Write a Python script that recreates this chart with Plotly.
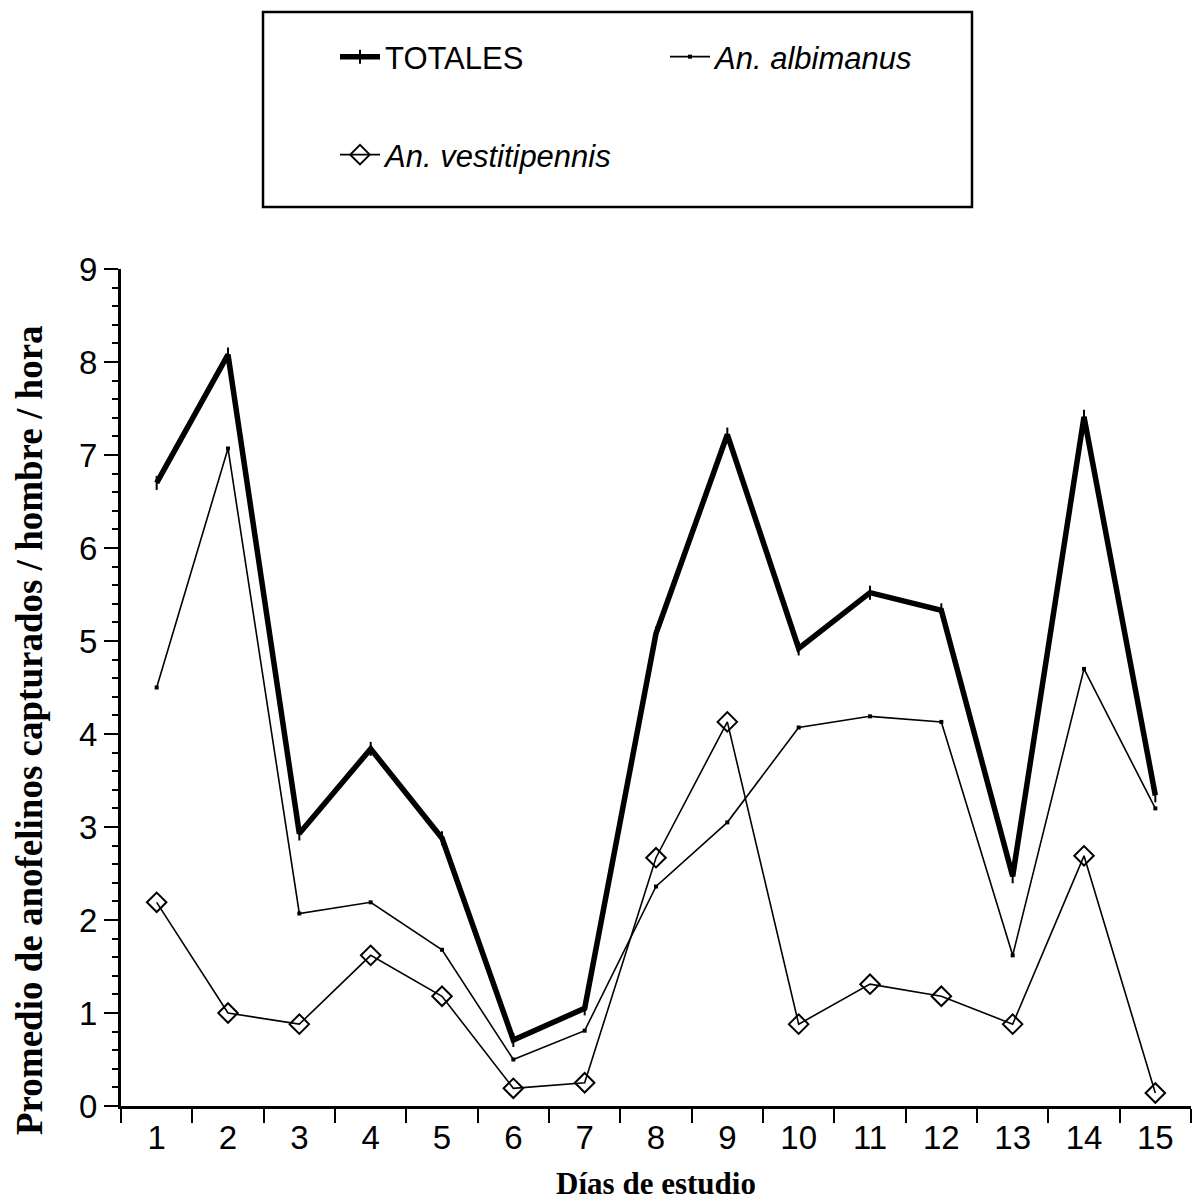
import plotly.graph_objects as go

# Días de estudio
dias = list(range(1, 16))

# Promedio de anofelinos capturados / hombre / hora
totales = [6.70, 8.08, 2.93, 3.84, 2.88, 0.71, 1.05, 5.08, 7.22, 4.92, 5.52, 5.33, 2.47, 7.41, 3.34]
albimanus = [4.50, 7.07, 2.07, 2.19, 1.68, 0.50, 0.81, 2.36, 3.05, 4.07, 4.19, 4.13, 1.62, 4.70, 3.20]
vestitipennis = [2.19, 1.00, 0.88, 1.62, 1.18, 0.19, 0.25, 2.67, 4.13, 0.88, 1.31, 1.18, 0.88, 2.69, 0.14]

x_labels = [str(d) for d in dias]
y_ticks = list(range(0, 10))

W, H = 1193, 1201
ML, MR, MT, MB = 121, 2, 269, 95
pw, ph = W - ML - MR, H - MT - MB


def px_x(p):
    return (p - ML) / pw


def px_y(p):
    return (H - MB - p) / ph


sans = "Liberation Sans, Arial, sans-serif"
serif = "Liberation Serif, Times New Roman, serif"

fig = go.Figure()

fig.add_trace(go.Scatter(
    x=dias, y=totales, name="TOTALES", mode="lines+markers",
    line=dict(color="black", width=5.5),
    marker=dict(symbol="line-ns-open", size=10, color="black",
                line=dict(color="black", width=2)),
    legend="legend",
))
fig.add_trace(go.Scatter(
    x=dias, y=albimanus, name="<i>An. albimanus</i>", mode="lines+markers",
    line=dict(color="black", width=1.6),
    marker=dict(symbol="square", size=4, color="black"),
    legend="legend",
))
fig.add_trace(go.Scatter(
    x=dias, y=vestitipennis, name="<i>An. vestitipennis</i>", mode="lines+markers",
    line=dict(color="black", width=1.6),
    marker=dict(symbol="diamond-open", size=15, color="black",
                line=dict(color="black", width=2)),
    legend="legend2",
))

# Frame around both legend rows
fig.add_shape(
    type="rect", xref="paper", yref="paper",
    x0=px_x(263), x1=px_x(972), y0=px_y(207), y1=px_y(12),
    line=dict(color="black", width=2.5), fillcolor="rgba(0,0,0,0)",
)

# Vertical axis title
fig.add_annotation(
    text="<b>Promedio de anofelinos capturados / hombre / hora</b>",
    xref="paper", yref="paper", x=px_x(29), y=px_y(730),
    xanchor="center", yanchor="middle", textangle=-90, showarrow=False,
    font=dict(family=serif, size=37, color="black"),
)

legend_font = dict(family=sans, size=31, color="black")

fig.update_layout(
    width=W, height=H,
    margin=dict(l=ML, r=MR, t=MT, b=MB),
    paper_bgcolor="white", plot_bgcolor="white",
    showlegend=True,
    legend=dict(
        orientation="h", x=px_x(335), xanchor="left",
        y=px_y(57), yanchor="middle",
        entrywidth=275, entrywidthmode="pixels",
        font=legend_font, bgcolor="rgba(0,0,0,0)", borderwidth=0,
        itemwidth=40,
    ),
    legend2=dict(
        orientation="h", x=px_x(335), xanchor="left",
        y=px_y(155), yanchor="middle",
        font=legend_font, bgcolor="rgba(0,0,0,0)", borderwidth=0,
        itemwidth=40,
    ),
    xaxis=dict(
        range=[0.5, 15.5],
        tickmode="array", tickvals=dias, ticktext=x_labels,
        ticks="outside", ticklen=0,
        minor=dict(ticks="outside", ticklen=14, tickwidth=2,
                   tick0=0.5, dtick=1, tickcolor="black", showgrid=False),
        showline=True, linecolor="black", linewidth=3,
        showgrid=False, zeroline=False,
        tickfont=dict(family=sans, size=33, color="black"),
        title=dict(text="<b>Días de estudio</b>",
                   font=dict(family=serif, size=31, color="black"),
                   standoff=22),
    ),
    yaxis=dict(
        range=[0, 9],
        tickmode="array", tickvals=y_ticks,
        ticks="outside", ticklen=14, tickwidth=2, tickcolor="black",
        minor=dict(ticks="outside", ticklen=6, tickwidth=2,
                   dtick=0.2, tick0=0, tickcolor="black", showgrid=False),
        showline=True, linecolor="black", linewidth=3,
        showgrid=False, zeroline=False,
        tickfont=dict(family=sans, size=33, color="black"),
    ),
)

fig.write_html("out.html")
